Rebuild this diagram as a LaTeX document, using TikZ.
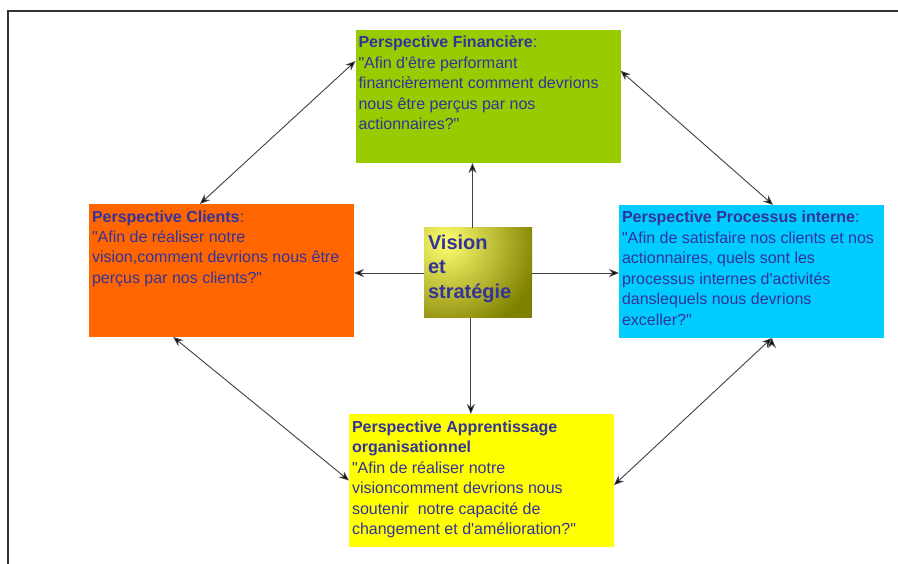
\documentclass[tikz,border=0pt]{standalone}
\usepackage{fontspec}
\setmainfont{Liberation Sans}[Ligatures=TeXOff]
\usepackage{xcolor}
\usepackage{tikz}
\usetikzlibrary{arrows.meta,positioning,calc}
\definecolor{texte}{HTML}{333399}
\definecolor{vert}{HTML}{99CC00}
\definecolor{orangecl}{HTML}{FF6600}
\definecolor{cyancl}{HTML}{00CCFF}
\definecolor{jaune}{HTML}{FFFF00}
\definecolor{jauneclair}{HTML}{FFFF70}
\definecolor{olivefonce}{HTML}{7F7F00}
\newcommand{\titre}[1]{\textbf{#1}}
\newcommand{\boite}[1]{\parbox[c][133pt][t]{259pt}{\raggedright\fontsize{16pt}{20.5pt}\selectfont\color{texte}\rule{0pt}{18pt}#1}}

\begin{document}
\begin{tikzpicture}[->,>={Stealth[length=10pt,width=8pt,fill=black]}, x=1pt, y=-1pt, semithick]
    \tikzstyle{persp}=[minimum width=265pt, minimum height=133pt, inner sep=0pt, outer sep=0pt]
    \tikzstyle{centre}=[minimum width=108pt, minimum height=90pt, inner sep=0pt, outer sep=0pt, fill=olivefonce,
        path picture={\shade[inner color=jauneclair, outer color=olivefonce]
            ($(path picture bounding box.north west)+(22pt,-14pt)$) circle (95pt);}]
    \tikzstyle{fleche}=[draw=black!75, line width=0.9pt]

    \useasboundingbox (0,0) rectangle (898,564);
    \draw[-, line width=1.4pt, black!80] (898,11) -| (8,564);

    % Noeud central
    \node[centre] (vision) at (478,273)
        {\parbox[c][90pt][t]{100pt}{\fontsize{20pt}{24.5pt}\selectfont\bfseries\color{texte}\rule{0pt}{21.5pt}Vision\\et\\strat\'egie}};

    % Les quatre perspectives
    \node[persp, fill=vert]     (fin)  [above=65pt of vision, xshift=10pt]
        {\boite{\titre{Perspective Financi\`ere}:\\"Afin d'\^etre performant\\financi\`erement comment devrions\\nous \^etre per\c{c}us par nos\\actionnaires?"}};
    \node[persp, fill=orangecl] (cli)  [left=70pt of vision, yshift=2.5pt]
        {\boite{\titre{Perspective Clients}:\\"Afin de r\'ealiser notre\\vision,comment devrions nous \^etre\\per\c{c}us par nos clients?"}};
    \node[persp, fill=cyancl]   (proc) [right=87pt of vision, yshift=1.5pt]
        {\boite{\titre{Perspective Processus interne}:\\"Afin de satisfaire nos clients et nos\\actionnaires, quels sont les\\processus internes d'activit\'es\\danslequels nous devrions\\exceller?"}};
    \node[persp, fill=jaune]    (appr) [below=96pt of vision, xshift=3.5pt]
        {\boite{\titre{Perspective Apprentissage}\\\titre{organisationnel}\\"Afin de r\'ealiser notre\\visioncomment devrions nous\\soutenir~ notre capacit\'e de\\changement et d'am\'elioration?"}};

    \path[fleche]
        (vision.97.6) edge                (vision.97.6 |- fin.south)
        (vision.west) edge                (vision.west -| cli.east)
        (vision.east) edge                (vision.east -| proc.west)
        (vision.261)  edge                (vision.261 |- appr.north)

        % Les fleches doubles
        (fin.165.8)   edge [<->]          (cli.108.9)
        (fin.11.7)    edge [<->]          (proc.72.8)
        (cli.234.3)   edge [<->]          (appr.180)
        (proc.287.1)  edge [<->]          (appr.358.5)
    ;
\end{tikzpicture}
\end{document}
